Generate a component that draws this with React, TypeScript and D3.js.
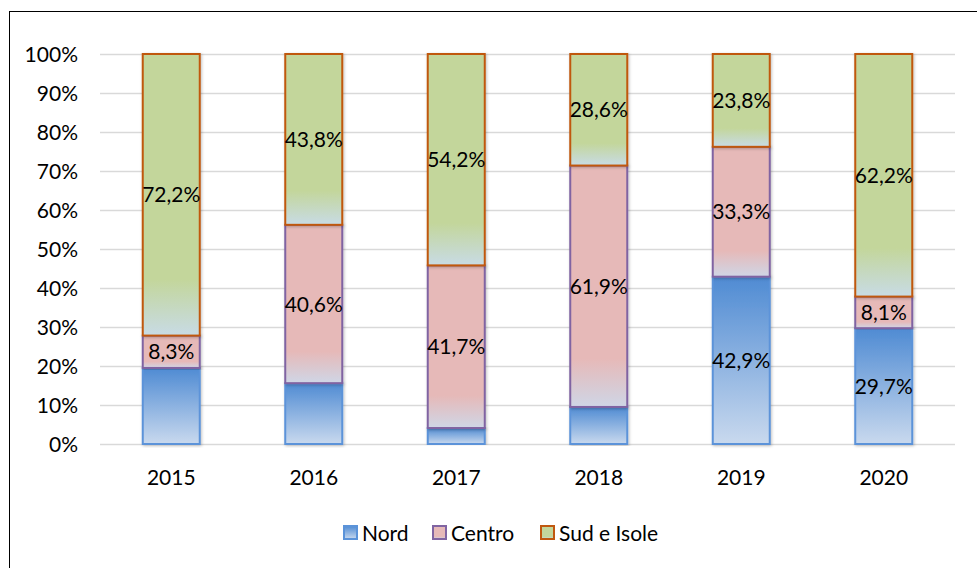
import React from "react";
import * as d3 from "d3";

const years = ["2015", "2016", "2017", "2018", "2019", "2020"];
const nord = [19.5, 15.6, 4.1, 9.5, 42.9, 29.7];
const centro = [8.3, 40.6, 41.7, 61.9, 33.3, 8.1];
const sud = [72.2, 43.8, 54.2, 28.6, 23.8, 62.2];
const seriesNames = ["Nord", "Centro", "Sud e Isole"];
const yTicks = [0, 10, 20, 30, 40, 50, 60, 70, 80, 90, 100];

const W = 977;
const H = 568;
const FONT = "Lato, 'Open Sans', sans-serif";
const FS = 21;

const styles = [
  { key: "nord", top: "#4f8bd3", bottom: "#c9d9ee", stroke: "#5b93d9", solidTo: 0 },
  { key: "centro", top: "#e6b9b8", bottom: "#cfd6e6", stroke: "#8064a2", solidTo: 0.8 },
  { key: "sud", top: "#c3d69b", bottom: "#c8dbe5", stroke: "#c0580f", solidTo: 0.8 },
];

export default function App() {
  const x = d3.scaleBand().domain(years).range([100, 955]).paddingInner(0.6).paddingOuter(0.3);
  const y = d3.scaleLinear().domain([0, 100]).range([444, 54]);

  const rows = years.map((yr, i) => ({ year: yr, nord: nord[i], centro: centro[i], sud: sud[i] }));
  const stacked = d3.stack<any>().keys(["nord", "centro", "sud"])(rows);
  const values = [nord, centro, sud];
  const fmt = (v: number) => v.toFixed(1).replace(".", ",") + "%";

  const legendX = [343, 432, 540];

  return (
    <svg width={W} height={H} style={{ position: "absolute", left: 0, top: 0 }}>
      <defs>
        {styles.map((s) => (
          <linearGradient key={s.key} id={`g-${s.key}`} x1="0" y1="0" x2="0" y2="1">
            <stop offset="0" stopColor={s.top} />
            {s.solidTo > 0 && <stop offset={s.solidTo} stopColor={s.top} />}
            <stop offset="1" stopColor={s.bottom} />
          </linearGradient>
        ))}
        <filter id="shadow" x="-20%" y="-5%" width="140%" height="110%">
          <feDropShadow dx="1" dy="1" stdDeviation="1.5" floodColor="#000" floodOpacity="0.25" />
        </filter>
      </defs>
      <rect x={0} y={0} width={W} height={H} fill="#fff" />
      <rect x={9.5} y={11.5} width={W + 10} height={H + 10} fill="#fff" stroke="#000" strokeWidth={1} />

      {yTicks.map((t) => (
        <g key={t}>
          <line x1={100} x2={955} y1={Math.round(y(t)) + 0.5} y2={Math.round(y(t)) + 0.5} stroke="#d9d9d9" strokeWidth={1.5} />
          <text x={78} y={y(t)} dy="0.36em" textAnchor="end" fontFamily={FONT} fontSize={FS} fill="#000">
            {t}%
          </text>
        </g>
      ))}

      {stacked.map((layer, li) =>
        layer.map((d, i) => {
          const bx = x(years[i])!;
          const y0 = y(d[1]);
          const y1 = y(d[0]);
          return (
            <rect
              key={`${li}-${i}`}
              x={bx}
              y={y0}
              width={x.bandwidth()}
              height={y1 - y0}
              fill={`url(#g-${styles[li].key})`}
              stroke={styles[li].stroke}
              strokeWidth={2}
              filter="url(#shadow)"
            />
          );
        })
      )}

      {stacked.map((layer, li) =>
        layer.map((d, i) => {
          // Nord labels are shown only for the last two years
          if (li === 0 && i < 4) return null;
          const cx = x(years[i])! + x.bandwidth() / 2;
          const cy = (y(d[0]) + y(d[1])) / 2;
          return (
            <text key={`l-${li}-${i}`} x={cx} y={cy} dy="0.36em" textAnchor="middle" fontFamily={FONT} fontSize={FS} fill="#000">
              {fmt(values[li][i])}
            </text>
          );
        })
      )}

      {years.map((yr) => (
        <text key={yr} x={x(yr)! + x.bandwidth() / 2} y={477} dy="0.36em" textAnchor="middle" fontFamily={FONT} fontSize={FS} fill="#000">
          {yr}
        </text>
      ))}

      {seriesNames.map((n, i) => (
        <g key={n}>
          <rect x={legendX[i] + 1} y={526} width={13} height={13} fill={`url(#g-${styles[i].key})`} stroke={styles[i].stroke} strokeWidth={2} />
          <text x={legendX[i] + 19} y={533} dy="0.36em" fontFamily={FONT} fontSize={FS} fill="#000">
            {n}
          </text>
        </g>
      ))}
    </svg>
  );
}
